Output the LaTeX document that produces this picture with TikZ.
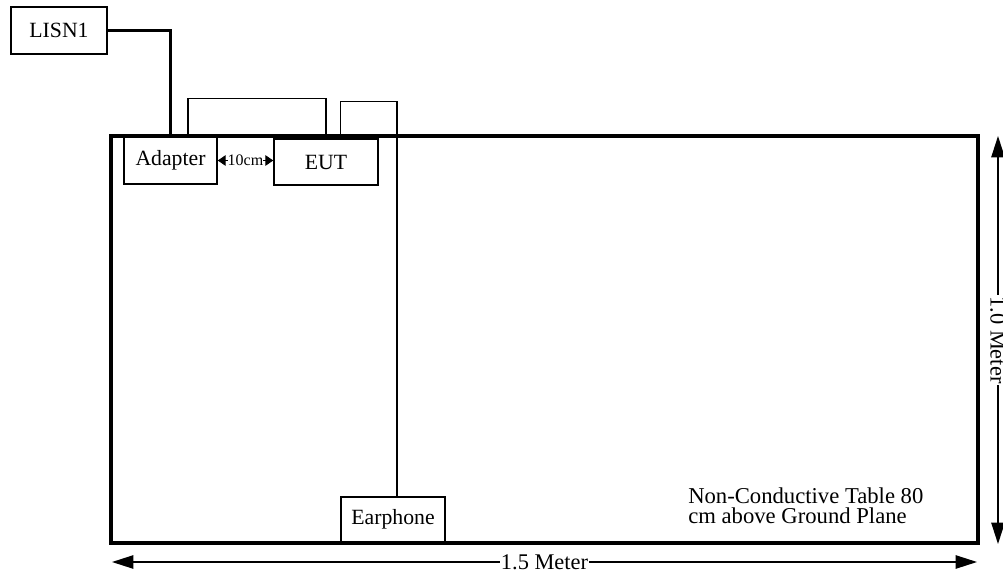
\documentclass[tikz,border=0pt]{standalone}
\usepackage{fontspec}
\setmainfont{Liberation Serif}
\usetikzlibrary{arrows.meta, positioning, calc}
\definecolor{boxline}{HTML}{000000}
\definecolor{paper}{HTML}{FFFFFF}
\tikzset{
  unit/.style   = {rectangle, draw=boxline, line width=1.1pt, inner sep=0pt,
                   font=\fontsize{16.3}{18}\selectfont},
  tbl/.style    = {rectangle, draw=boxline, line width=2.3pt, inner sep=0pt},
  pwr/.style    = {line width=2.3pt, draw=boxline},
  cable/.style  = {line width=0.8pt, draw=boxline},
  dim/.style    = {{Triangle[length=16pt,width=10pt]}-{Triangle[length=16pt,width=10pt]},
                   line width=1.1pt, draw=boxline},
  gap/.style    = {{Triangle[length=6pt,width=8pt]}-{Triangle[length=6pt,width=8pt]},
                   line width=0.8pt, draw=boxline},
  dimlbl/.style = {fill=paper, inner sep=1pt, font=\fontsize{16.8}{18}\selectfont},
  note/.style   = {align=left, inner sep=0pt, font=\fontsize{17}{15.5}\selectfont},
}
\begin{document}
\begin{tikzpicture}[x=0.75pt, y=-0.75pt]
  \useasboundingbox (0,0) rectangle (1003,578);
  % table
  \node[tbl, minimum width={867*0.75pt}, minimum height={407*0.75pt}] (table) at (544.5,339.5) {};
  % units
  \foreach \nm/\x/\y/\w/\h/\txt in {
    lisn/59/30.5/96/47/{LISN1},
    adapter/170.5/160.5/93/47/{Adapter},
    eut/326/162/104/46/{EUT},
    earphone/393/519.5/104/45/{Earphone}}{
    \node[unit, minimum width={\w*0.75pt}, minimum height={\h*0.75pt}] (\nm) at (\x,\y) {\txt};
  }
  % cables
  \draw[pwr] (lisn.east) -| (adapter.north);
  \draw[cable] ($(adapter.north)+(17.5,0)$) -- ++(0,-38) -| (eut.north);
  \draw[cable] (earphone.west |- table.north) -- ++(0,-33) -| ($(earphone.north)+(4,0)$);
  \draw[gap] (adapter.east) -- (adapter.east -| eut.west)
    node[midway, fill=paper, inner sep=0pt, font=\fontsize{12}{12}\selectfont] (gaplbl) {10cm};
  % dimensions
  \coordinate (dl) at (112,562);
  \coordinate (dr) at (977,562);
  \coordinate (dt) at (998,136);
  \coordinate (db) at (998,544);
  \draw[dim] (dl) -- (dr) node[midway, dimlbl] (wlbl) {1.5 Meter};
  \draw[dim] (dt) -- (db) node[midway, dimlbl, rotate=-90] (hlbl) {1.0 Meter};
  \node[note, anchor=north west] (tnote) at (688,487) {Non-Conductive Table 80\\cm above Ground Plane};
\end{tikzpicture}
\end{document}
